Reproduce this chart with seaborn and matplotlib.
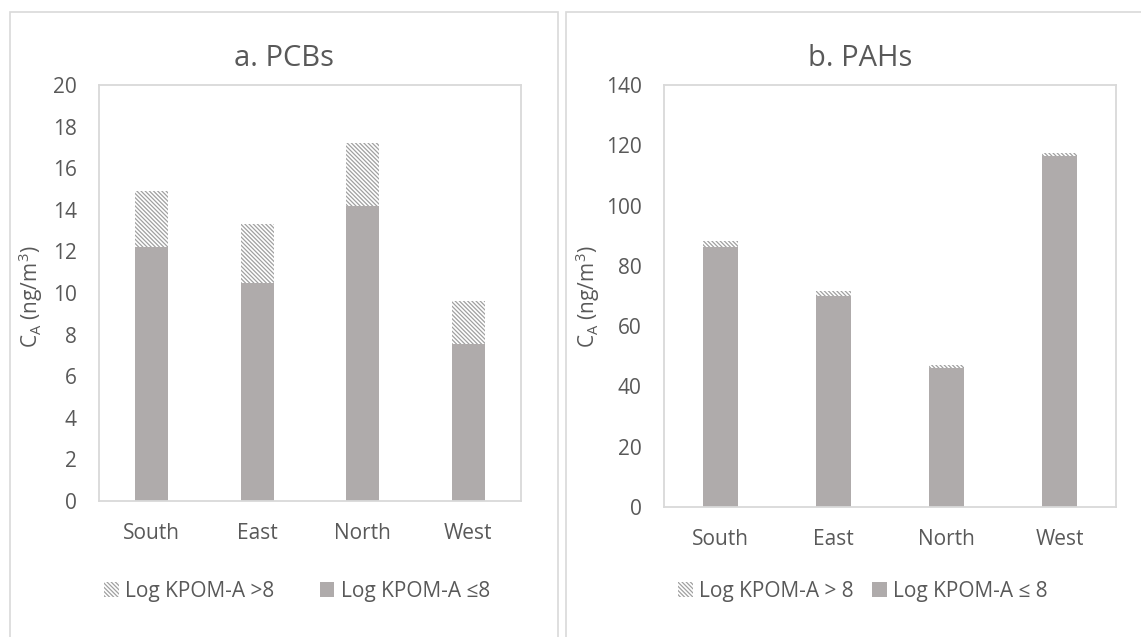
import matplotlib
matplotlib.use("Agg")
import matplotlib.pyplot as plt
import seaborn as sns
import pandas as pd
from matplotlib.patches import Rectangle, Patch

# ---- data ----
regions = ["South", "East", "North", "West"]
pcb_low = [12.2, 10.5, 14.2, 7.55]      # Log KPOM-A <= 8
pcb_total = [14.9, 13.3, 17.2, 9.6]     # stacked total
pah_low = [86.3, 70.0, 46.0, 116.3]
pah_total = [88.2, 71.8, 47.0, 117.4]
pcb_ticks = [0, 2, 4, 6, 8, 10, 12, 14, 16, 18, 20]
pah_ticks = [0, 20, 40, 60, 80, 100, 120, 140]
legend_a = ["Log KPOM-A >8", "Log KPOM-A \u22648"]
legend_b = ["Log KPOM-A > 8", "Log KPOM-A \u2264 8"]

sns.set_theme(style="white")
plt.rcParams["font.family"] = ["Open Sans", "DejaVu Sans"]
plt.rcParams["mathtext.default"] = "regular"
plt.rcParams["hatch.linewidth"] = 0.9

TXT = "#595959"
BAR = "#AFABAB"
HATCH_C = "#A0A0A0"
BORDER = "#D9D9D9"
HATCH = "\\" * 8
FS = 15
W, H = 1141, 637

fig = plt.figure(figsize=(W / 100, H / 100), dpi=100)

def fx(x):
    return x / W

def fy(y):
    return 1 - y / H

# panel borders
fig.add_artist(Rectangle((fx(10), fy(640)), fx(548), (640 - 12) / H, transform=fig.transFigure,
                         fill=False, edgecolor=BORDER, linewidth=1.2))
fig.add_artist(Rectangle((fx(566), fy(640)), fx(600), (640 - 12) / H, transform=fig.transFigure,
                         fill=False, edgecolor=BORDER, linewidth=1.2))

def panel(rect, low, total, ticks, title, title_x, ylab_x, leg_labels, leg_x, colspacing):
    x0, y0, x1, y1 = rect
    ax = fig.add_axes([fx(x0), fy(y1), fx(x1 - x0), (y1 - y0) / H])
    df = pd.DataFrame({"region": regions, "low": low, "total": total})
    sns.barplot(data=df, x="region", y="total", ax=ax, color="white", width=0.31,
                saturation=1, edgecolor=HATCH_C, linewidth=0, hatch=HATCH)
    sns.barplot(data=df, x="region", y="low", ax=ax, color=BAR, width=0.31,
                saturation=1, linewidth=0)
    ax.set_ylim(ticks[0], ticks[-1])
    ax.set_yticks(ticks)
    ax.set_xlabel("")
    ax.set_ylabel("")
    ax.tick_params(axis="both", length=0, labelsize=FS, colors=TXT)
    ax.tick_params(axis="x", pad=15.5)
    ax.tick_params(axis="y", pad=16)
    for s in ax.spines.values():
        s.set_color(BORDER)
        s.set_linewidth(1.3)
    fig.text(fx(title_x), fy(58), title, ha="center", va="center", fontsize=21, color=TXT)
    fig.text(fx(ylab_x), fy(297), "C$_A$ (ng/m$^3$)", ha="center", va="center",
             rotation=90, fontsize=FS, color=TXT)
    handles = [Patch(facecolor="white", edgecolor=HATCH_C, linewidth=0, hatch=HATCH),
               Patch(facecolor=BAR, edgecolor=BAR, linewidth=0)]
    fig.legend(handles, leg_labels, loc="center", bbox_to_anchor=(fx(leg_x), fy(591)),
               ncol=2, frameon=False, fontsize=FS, labelcolor=TXT, handlelength=0.7,
               handleheight=0.7, handletextpad=0.3, columnspacing=colspacing)
    return ax

panel((99, 85, 521, 501), pcb_low, pcb_total, pcb_ticks, "a. PCBs", 284, 31, legend_a, 297, 2.2)
panel((664, 85, 1116, 507), pah_low, pah_total, pah_ticks, "b. PAHs", 860, 588, legend_b, 863, 0.9)

fig.savefig("out.png", dpi=100, facecolor="white")
